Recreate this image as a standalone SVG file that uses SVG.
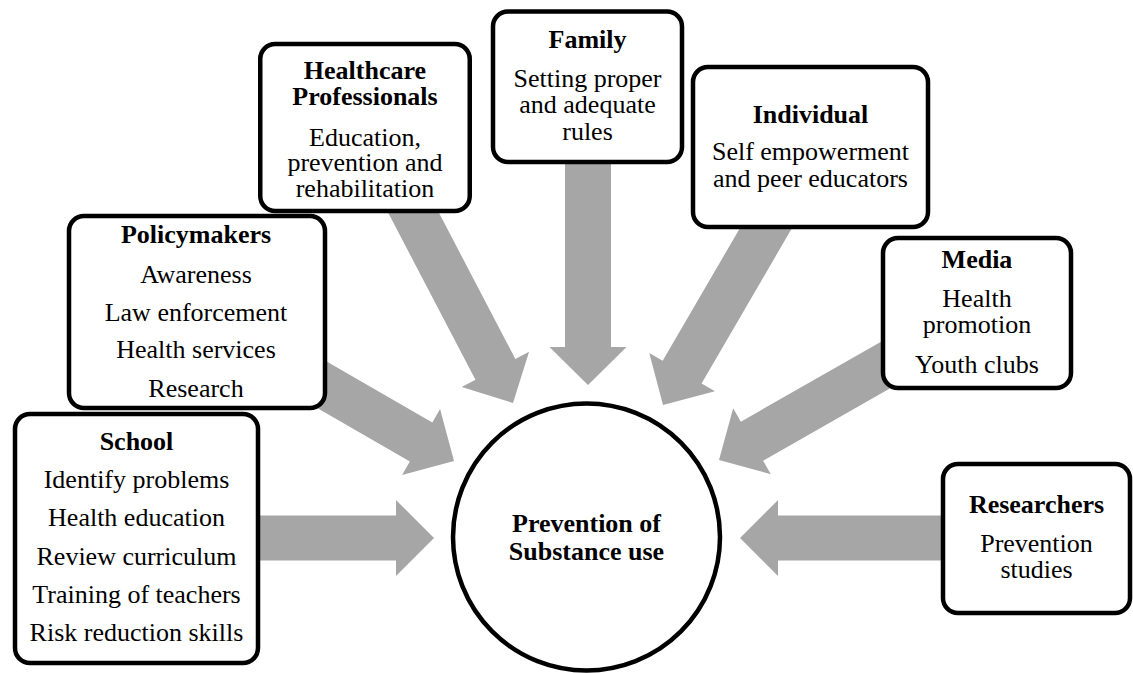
<svg xmlns="http://www.w3.org/2000/svg" width="1133" height="673" viewBox="0 0 1133 673">
<style>
.arrow{fill:#A6A6A6;stroke:none}
.box{fill:#FFFFFF;stroke:#000000;stroke-width:4.5}
.t{font-family:'Liberation Serif','Times New Roman','DejaVu Serif','Noto Serif',serif;font-size:26px;fill:#000000;text-anchor:middle}
.b{font-weight:bold}
</style>
<rect width="1133" height="673" fill="#FFFFFF"/>
<g id="connectors">
<polygon class="arrow" transform="translate(434,538) rotate(0)" points="-180,-22.5 -38,-22.5 -38,-38 0,0 -38,38 -38,22.5 -180,22.5"/>
<polygon class="arrow" transform="translate(740,538) rotate(180)" points="-205,-22.5 -38,-22.5 -38,-38 0,0 -38,38 -38,22.5 -205,22.5"/>
<polygon class="arrow" transform="translate(588,385) rotate(90)" points="-230,-23 -38,-23 -38,-38.5 0,0 -38,38.5 -38,23 -230,23"/>
<polygon class="arrow" transform="translate(513,403) rotate(62.4)" points="-230,-22.5 -38,-22.5 -38,-38 0,0 -38,38 -38,22.5 -230,22.5"/>
<polygon class="arrow" transform="translate(663,405) rotate(120.2)" points="-232,-22.5 -38,-22.5 -38,-38 0,0 -38,38 -38,22.5 -232,22.5"/>
<polygon class="arrow" transform="translate(454,461) rotate(30)" points="-170,-22.5 -38,-22.5 -38,-38 0,0 -38,38 -38,22.5 -170,22.5"/>
<polygon class="arrow" transform="translate(719,460) rotate(150.3)" points="-210,-22.5 -38,-22.5 -38,-38 0,0 -38,38 -38,22.5 -210,22.5"/>
</g>
<g id="healthcare" font-family="Liberation Serif, serif">
<rect class="box" x="260.25" y="44" width="209.5" height="167" rx="15"/>
<text class="t b" x="365" y="79">Healthcare</text>
<text class="t b" x="365" y="105">Professionals</text>
<text class="t" x="365" y="146">Education,</text>
<text class="t" x="365" y="171">prevention and</text>
<text class="t" x="365" y="197">rehabilitation</text>
</g>
<g id="family">
<rect class="box" x="493" y="11.5" width="189" height="150.5" rx="15"/>
<text class="t b" x="587.5" y="48">Family</text>
<text class="t" x="587.5" y="87">Setting proper</text>
<text class="t" x="587.5" y="113">and adequate</text>
<text class="t" x="587.5" y="140">rules</text>
</g>
<g id="individual">
<rect class="box" x="693" y="67" width="235" height="160" rx="15"/>
<text class="t b" x="810.5" y="123">Individual</text>
<text class="t" x="810.5" y="160">Self empowerment</text>
<text class="t" x="810.5" y="187">and peer educators</text>
</g>
<g id="media">
<rect class="box" x="883" y="238" width="188" height="150" rx="15"/>
<text class="t b" x="977" y="268">Media</text>
<text class="t" x="977" y="307">Health</text>
<text class="t" x="977" y="333">promotion</text>
<text class="t" x="977" y="373">Youth clubs</text>
</g>
<g id="policymakers">
<rect class="box" x="69" y="216" width="256" height="192" rx="15"/>
<text class="t b" x="196" y="243">Policymakers</text>
<text class="t" x="196" y="283">Awareness</text>
<text class="t" x="196" y="321">Law enforcement</text>
<text class="t" x="196" y="358">Health services</text>
<text class="t" x="196" y="397">Research</text>
</g>
<g id="school">
<rect class="box" x="15" y="414" width="243" height="249" rx="15"/>
<text class="t b" x="136.5" y="450">School</text>
<text class="t" x="136.5" y="488">Identify problems</text>
<text class="t" x="136.5" y="526">Health education</text>
<text class="t" x="136.5" y="565">Review curriculum</text>
<text class="t" x="136.5" y="603">Training of teachers</text>
<text class="t" x="136.5" y="641">Risk reduction skills</text>
</g>
<g id="researchers">
<rect class="box" x="943" y="464" width="187" height="149" rx="15"/>
<text class="t b" x="1036.5" y="513">Researchers</text>
<text class="t" x="1036.5" y="552">Prevention</text>
<text class="t" x="1036.5" y="578">studies</text>
</g>
<g id="center">
<circle class="box" cx="586.5" cy="537" r="133.5"/>
<text class="t b" x="586.5" y="532">Prevention of</text>
<text class="t b" x="586.5" y="560">Substance use</text>
</g>
</svg>
